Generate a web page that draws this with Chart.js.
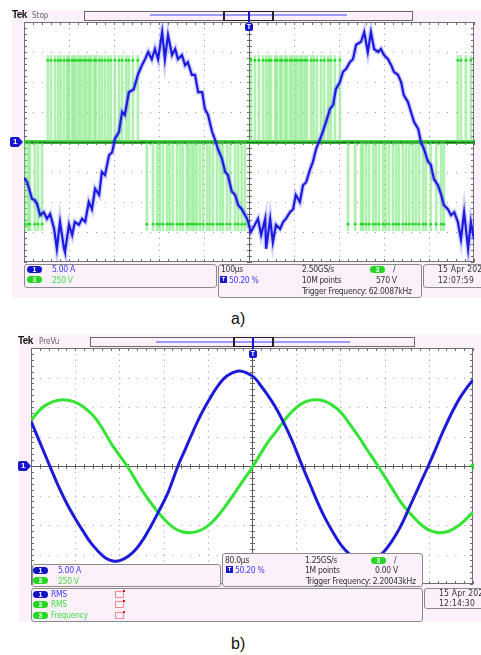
<!DOCTYPE html>
<html>
<head>
<meta charset="utf-8">
<script src="https://cdn.jsdelivr.net/npm/chart.js@4.4.1/dist/chart.umd.min.js"></script>
<style>
html, body { margin: 0; padding: 0; background: #fff; }
#page { position: relative; width: 481px; height: 655px; overflow: hidden;
  font-family: "Liberation Sans Narrow", "DejaVu Sans Condensed", "Liberation Sans", sans-serif; }
.pink { position: absolute; background: #fcf0fa; }
canvas { position: absolute; left: 0; }
.box { position: absolute; border: 1px solid #8a8a8a; border-radius: 3px; background: #fcf0fa; box-sizing: border-box; }
.t { position: absolute; font-size: 8.5px; line-height: 10px; color: #333; white-space: nowrap; letter-spacing: -0.3px; }
.date { letter-spacing: 0.2px; }
.c1 { color: #3a3aff; }
.c3 { color: #45dd45; }
.pill { position: absolute; width: 15px; height: 7px; border-radius: 4px; color: #fff; font: bold 7px/7px "Liberation Sans", sans-serif; text-align: center; }
.p1 { background: #1212c8; }
.p3 { background: #22d622; }
.tek { position: absolute; font: bold 10px/10px "Liberation Sans", sans-serif; color: #111; letter-spacing: -0.6px; }
.mode { position: absolute; font-size: 8px; line-height: 9px; color: #666; }
.hbar { position: absolute; border: 1px solid #6a6a6a; background: #fcf0fa; box-sizing: border-box; }
.hline { position: absolute; height: 2px; background: #9a9aff; }
.brk { position: absolute; border: 1px solid #222; border-left-width: 2px; border-right-width: 2px; box-sizing: border-box; }
.arrow { position: absolute; width: 2px; background: #1515d0; }
.tmark { position: absolute; width: 8px; height: 8px; border-radius: 2px; background: #1515d0; color: #fff;
  font: bold 7px/8px "Liberation Sans", sans-serif; text-align: center; }
.ch1 { position: absolute; width: 13px; height: 10px; background: #1515d0; color: #fff;
  font: bold 8px/10px "Liberation Sans", sans-serif; text-indent: 3px;
  clip-path: polygon(0 0, 65% 0, 100% 50%, 65% 100%, 0 100%); border-radius: 2px 0 0 2px; }
.ticon { position: absolute; width: 7px; height: 7px; background: #1515d0; color: #fff;
  font: bold 6px/7px "Liberation Sans", sans-serif; text-align: center; }
.ricon { position: absolute; width: 9px; height: 7px; border: 1px solid #f08a8a; box-sizing: border-box; }
.ricon::after { content: ""; position: absolute; right: -2px; top: -2px; width: 2px; height: 2px; background: #e01010; }
.gmark { position: absolute; width: 5px; height: 6px; background: #22d622; clip-path: polygon(0 50%, 100% 0, 100% 100%); }
.lbl { position: absolute; font: 16px/20px "Liberation Sans", Arial, sans-serif; color: #111; }
</style>
</head>
<body>
<div id="page">
  <!-- panel a -->
  <div class="pink" style="left:12px;top:10px;width:469px;height:288px;"></div>
  <canvas id="chartA" width="481" height="300" style="top:0;"></canvas>
  <div class="tek" style="left:12px;top:10px;">Tek</div>
  <div class="mode" style="left:32px;top:11px;">Stop</div>
  <div class="hbar" style="left:84px;top:11px;width:329px;height:10px;"></div>
  <div class="hline" style="left:150px;top:14px;width:197px;"></div>
  <div class="brk" style="left:223px;top:11px;width:51px;height:10px;"></div>
  <div class="arrow" style="left:248px;top:11px;height:11px;"></div>
  <div class="tmark" style="left:245px;top:23px;">T</div>
  <div class="ch1" style="left:10px;top:137px;">1</div>

  <div class="box" style="left:24px;top:264px;width:193px;height:24px;"></div>
  <div class="pill p1" style="left:27px;top:266px;">1</div>
  <div class="t c1" style="left:52px;top:264px;">5.00 A</div>
  <div class="pill p3" style="left:27px;top:276px;">3</div>
  <div class="t c3" style="left:52px;top:275px;">250 V</div>

  <div class="box" style="left:218px;top:264px;width:204px;height:34px;"></div>
  <div class="t" style="left:221px;top:264px;">100µs</div>
  <div class="t" style="left:302px;top:264px;">2.50GS/s</div>
  <div class="pill p3" style="left:370px;top:266px;">3</div>
  <div class="t" style="left:393px;top:264px;">/</div>
  <div class="ticon" style="left:220px;top:276px;">T</div>
  <div class="t c1" style="left:229px;top:275px;">50.20 %</div>
  <div class="t" style="left:302px;top:275px;">10M points</div>
  <div class="t" style="left:376px;top:275px;">570 V</div>
  <div class="t" style="left:302px;top:286px;">Trigger Frequency: 62.0087kHz</div>

  <div class="box" style="left:423px;top:264px;width:70px;height:24px;"></div>
  <div class="t date" style="left:438px;top:264px;">15 Apr 202</div>
  <div class="t date" style="left:438px;top:275px;">12:07:59</div>

  <div class="lbl" style="left:231px;top:309px;">a)</div>

  <!-- panel b -->
  <div class="pink" style="left:19px;top:335px;width:462px;height:287px;"></div>
  <canvas id="chartB" width="481" height="300" style="top:330px;"></canvas>
  <div class="tek" style="left:18px;top:336px;">Tek</div>
  <div class="mode" style="left:39px;top:337px;">PreVu</div>
  <div class="hbar" style="left:90px;top:337px;width:325px;height:10px;"></div>
  <div class="hline" style="left:156px;top:341px;width:194px;"></div>
  <div class="brk" style="left:233px;top:337px;width:41px;height:10px;"></div>
  <div class="arrow" style="left:252px;top:337px;height:12px;"></div>
  <div class="tmark" style="left:249px;top:350px;">T</div>
  <div class="ch1" style="left:18px;top:461px;">1</div>
  <div class="gmark" style="left:469px;top:463px;"></div>

  <div class="box" style="left:222px;top:553px;width:201px;height:34px;"></div>
  <div class="t" style="left:225px;top:555px;">80.0µs</div>
  <div class="t" style="left:305px;top:555px;">1.25GS/s</div>
  <div class="pill p3" style="left:371px;top:557px;">3</div>
  <div class="t" style="left:394px;top:555px;">/</div>
  <div class="ticon" style="left:226px;top:566px;">T</div>
  <div class="t c1" style="left:235px;top:565px;">50.20 %</div>
  <div class="t" style="left:305px;top:565px;">1M points</div>
  <div class="t" style="left:375px;top:565px;">0.00 V</div>
  <div class="t" style="left:306px;top:576px;">Trigger Frequency: 2.20043kHz</div>

  <div class="box" style="left:32px;top:564px;width:189px;height:23px;"></div>
  <div class="pill p1" style="left:33px;top:567px;">1</div>
  <div class="t c1" style="left:58px;top:565px;">5.00 A</div>
  <div class="pill p3" style="left:33px;top:577px;">3</div>
  <div class="t c3" style="left:58px;top:576px;">250 V</div>

  <div class="box" style="left:31px;top:588px;width:392px;height:34px;"></div>
  <div class="pill p1" style="left:33px;top:591px;">1</div>
  <div class="t c1" style="left:51px;top:589px;">RMS</div>
  <div class="ricon" style="left:115px;top:591px;"></div>
  <div class="pill p3" style="left:33px;top:601px;">3</div>
  <div class="t c3" style="left:51px;top:599px;">RMS</div>
  <div class="ricon" style="left:115px;top:601px;"></div>
  <div class="pill p3" style="left:33px;top:612px;">3</div>
  <div class="t c3" style="left:51px;top:610px;">Frequency</div>
  <div class="ricon" style="left:115px;top:612px;"></div>

  <div class="box" style="left:424px;top:588px;width:70px;height:21px;"></div>
  <div class="t date" style="left:439px;top:588px;">15 Apr 202</div>
  <div class="t date" style="left:439px;top:598px;">12:14:30</div>

  <div class="lbl" style="left:231px;top:634px;">b)</div>
</div>

<script>
// a) screenshot: 100 us/div, CH1 5 A/div, CH3 250 V/div
const aCurrentTime = [-500,-493,-482,-476,-471,-464,-456,-449,-442,-433,-427,-420,-411,-409,-400,-393,-387,-378,-371,-364,
  -356,-349,-342,-333,-327,-320,-311,-304,-298,-289,-282,-276,-267,-256,-247,-238,-231,-224,-216,-209,
  -202,-193,-187,-180,-171,-164,-158,-149,-142,-136,-127,-120,-113,-104,-98,-91,-82,-76,-69,-60,
  -53,-47,-38,-31,-24,-16,-4,4,13,20,27,36,38,47,53,60,69,76,82,91,
  98,104,113,120,127,136,142,149,158,164,171,180,187,193,202,209,216,224,231,238,
  249,256,264,271,278,287,293,300,309,316,322,331,338,344,353,360,367,376,382,389,
  398,404,411,420,427,433,442,449,456,464,471,478,487,493,500];
const aCurrentAmps = [-6.0,-6.7,-9.5,-9.7,-10.3,-12.2,-11.7,-12.8,-12.0,-14.5,-17.8,-13.3,-17.8,-18.3,-13.8,-15.5,-13.3,-13.8,-12.8,-13.3,
  -10.0,-11.2,-7.8,-8.8,-5.0,-5.5,-2.2,-1.7,0.5,1.7,5.0,4.5,8.3,8.8,11.2,12.8,13.8,15.0,13.8,15.5,
  13.8,18.3,13.8,17.8,14.5,15.5,13.8,14.5,12.8,13.3,11.2,11.2,8.3,8.3,5.5,4.5,1.7,0.5,-1.2,-2.8,
  -5.0,-5.5,-8.3,-8.8,-10.5,-11.2,-12.8,-15.0,-13.8,-12.8,-15.5,-12.8,-17.8,-12.8,-16.7,-13.8,-14.5,-13.3,-12.8,-11.7,
  -11.2,-8.8,-10.0,-7.2,-6.7,-4.5,-3.3,-1.2,0.5,1.7,3.3,5.5,6.2,8.8,10.0,11.7,12.2,13.3,13.8,16.2,
  16.7,18.3,15.0,18.3,15.5,15.0,15.5,14.5,13.8,12.8,11.7,11.2,10.0,7.8,6.7,5.0,3.3,2.2,0,-1.2,
  -3.3,-3.8,-6.2,-7.2,-8.8,-10.5,-11.2,-12.2,-11.7,-13.3,-16.2,-11.7,-17.8,-13.3,-16.2];

// PWM pulses of CH3 (times in us)
const aPwmPosTimes = [-447,-440,-431,-424,-418,-411,-404,-400,-393,-389,-384,-378,-373,-367,-362,-356,-351,-344,-340,-333,
  -327,-320,-313,-307,-298,-289,-282,-273,-267,-258,-247,
  4,13,22,31,38,44,49,58,62,69,73,80,84,91,96,102,107,113,118,124,129,138,144,151,160,167,176,182,191,202,
  464,471,482,493];
const aPwmNegTimes = [-498,-491,-487,-476,-469,-460,
  -227,-213,-204,-198,-191,-182,-176,-169,-160,-153,-147,-138,-133,-127,-122,-116,-109,-102,-93,-87,-80,-71,-64,-58,
  -49,-42,-31,-24,-16,-9,
  220,236,249,253,260,267,276,282,289,298,304,311,320,327,333,342,349,356,364,371,378,387,393,404,416,427,433];
const aPwmHigh = 720, aPwmLow = -740;     // V, edge extent
const aDotHigh = 680, aDotLow = -685;     // V, plateau level
const aZeroTimes = [-500, 500];
const aZeroVolts = [0, 0];

// b) screenshot: 80 us/div, CH1 5 A/div, CH3 250 V/div
const bCurrentTime = [-400,-383,-366,-350,-335,-320,-306,-292,-279,-265,-252,-238,-224,-210,-196,-183,-170,-152,-134,-120,
  -107,-92,-76,-60,-45,-25,-10,4,16,27,41,56,73,91,105,118,132,147,162,177,
  191,205,220,237,252,268,284,300,319,332,346,361,376,390,400];
const bCurrentAmps = [7.6,3.8,0,-3.5,-6.4,-8.9,-11.0,-13.0,-14.4,-15.6,-16.1,-16.0,-15.3,-14.1,-12.3,-10.2,-7.9,-4.5,0,3.0,
  5.8,8.8,11.5,13.8,15.3,16.1,15.8,15.0,13.6,12.2,10.2,7.6,4.2,0,-3.1,-6.0,-8.8,-11.3,-13.5,-15.0,
  -15.8,-16.1,-15.8,-14.7,-12.9,-10.4,-7.2,-3.9,0,2.8,5.9,8.9,11.5,13.4,14.6];
const bVoltageTime = [-400,-378,-360,-342,-324,-306,-288,-275,-252,-226,-203,-185,-172,-158,-143,-128,-112,-96,-81,-65,
  -45,-22,2,27,45,56,72,87,100,114,130,147,162,177,193,208,228,255,270,286,
  302,317,330,340,355,371,385,400];
const bVoltageVolts = [390,500,545,562,548,505,430,350,170,0,-178,-300,-380,-455,-520,-555,-565,-550,-512,-440,
  -320,-165,0,190,300,370,460,520,550,562,552,510,450,355,250,140,0,-200,-310,-400,
  -480,-535,-558,-565,-555,-515,-460,-390];

const xy = (xs, ys) => xs.map((x, i) => ({ x: x, y: ys[i] }));

function scopeGrid(xDivs, yDivs) {
    return {
        id: 'scopeGrid',
        beforeDatasetsDraw(chart) {
            const { ctx, chartArea: a } = chart;
            const xs = chart.scales.x, ys = chart.scales.y;
            const dx = (xs.max - xs.min) / xDivs, dy = (ys.max - ys.min) / yDivs;
            const px = v => Math.round(xs.getPixelForValue(v)) + 0.5;
            const py = v => Math.round(ys.getPixelForValue(v)) + 0.5;
            const line = (x1, y1, x2, y2) => { ctx.beginPath(); ctx.moveTo(x1, y1); ctx.lineTo(x2, y2); ctx.stroke(); };
            ctx.save();
            ctx.fillStyle = '#fff';
            ctx.fillRect(a.left, a.top, a.width, a.height);
            // dotted graticule
            ctx.strokeStyle = '#9c9c9c';
            ctx.lineWidth = 1;
            const mx = xs.getPixelForValue(xs.min + dx / 5) - xs.getPixelForValue(xs.min);
            const my = ys.getPixelForValue(ys.min) - ys.getPixelForValue(ys.min + dy / 5);
            for (let i = 1; i < xDivs; i++) {
                if (i * 2 === xDivs) continue;
                ctx.setLineDash([1, my - 1]);
                line(px(xs.min + i * dx), a.top, px(xs.min + i * dx), a.bottom);
            }
            for (let j = 1; j < yDivs; j++) {
                if (j * 2 === yDivs) continue;
                ctx.setLineDash([1, mx - 1]);
                line(a.left, py(ys.min + j * dy), a.right, py(ys.min + j * dy));
            }
            ctx.setLineDash([]);
            // centre cross and frame with minor ticks
            ctx.strokeStyle = '#5a5a5a';
            const cx = px(0), cy = py(0);
            line(cx, a.top, cx, a.bottom);
            line(a.left, cy, a.right, cy);
            ctx.strokeStyle = '#6a6a6a';
            for (let i = 0; i <= xDivs * 5; i++) {
                const x = px(xs.min + i * dx / 5);
                line(x, cy - 2.5, x, cy + 2.5);
                line(x, a.top, x, a.top + 3);
                line(x, a.bottom - 3, x, a.bottom);
            }
            for (let j = 0; j <= yDivs * 5; j++) {
                const y = py(ys.min + j * dy / 5);
                line(cx - 2.5, y, cx + 2.5, y);
                line(a.left, y, a.left + 3, y);
                line(a.right - 3, y, a.right, y);
            }
            ctx.strokeStyle = '#707070';
            ctx.strokeRect(a.left + 0.5, a.top + 0.5, a.width - 1, a.height - 1);
            ctx.restore();
        },
        afterDatasetDraw(chart, args) {
            // dark centre line sits on top of the CH3 zero band
            if (chart.data.datasets[args.index].label !== 'CH3 zero') return;
            const { ctx, chartArea: a } = chart;
            const cy = Math.round(chart.scales.y.getPixelForValue(0)) + 0.5;
            ctx.save();
            ctx.strokeStyle = '#2d4d2d';
            ctx.lineWidth = 1.5;
            ctx.beginPath(); ctx.moveTo(a.left, cy); ctx.lineTo(a.right, cy); ctx.stroke();
            ctx.restore();
        }
    };
}

function scopeOptions(xMin, xMax, padding) {
    return {
        responsive: false,
        animation: false,
        events: [],
        layout: { padding: padding },
        plugins: { legend: { display: false }, tooltip: { enabled: false } },
        scales: {
            x: { type: 'linear', min: xMin, max: xMax, offset: false, display: false },
            y: { min: -20, max: 20, display: false },
            y2: { min: -1000, max: 1000, display: false }
        }
    };
}

const pwmBars = aPwmPosTimes.map(t => ({ x: t, y: [0, aPwmHigh] }))
    .concat(aPwmNegTimes.map(t => ({ x: t, y: [0, aPwmLow] })));
const pwmDots = aPwmPosTimes.map(t => ({ x: t, y: aDotHigh }))
    .concat(aPwmNegTimes.map(t => ({ x: t, y: aDotLow })));

new Chart(document.getElementById('chartA'), {
    type: 'line',
    data: {
        datasets: [
            { label: 'CH1', data: xy(aCurrentTime, aCurrentAmps), yAxisID: 'y', borderColor: '#1a1ae0',
              borderWidth: 2.2, pointRadius: 0, tension: 0, order: 0 },
            { label: 'CH1 halo', data: xy(aCurrentTime, aCurrentAmps), yAxisID: 'y', borderColor: 'rgba(80,80,255,0.28)',
              borderWidth: 5, pointRadius: 0, tension: 0, order: 1 },
            { label: 'CH3 plateau', data: pwmDots, yAxisID: 'y2', showLine: false, pointRadius: 1.4,
              pointBorderWidth: 0, pointBackgroundColor: '#1fd81f', order: 2 },
            { type: 'bar', label: 'CH3 edges', data: pwmBars, yAxisID: 'y2', backgroundColor: 'rgba(95,228,95,0.5)',
              barThickness: 2, grouped: false, order: 3 },
            { label: 'CH3 zero', data: xy(aZeroTimes, aZeroVolts), yAxisID: 'y2', borderColor: '#34de34',
              borderWidth: 4, pointRadius: 0, order: 4 }
        ]
    },
    options: scopeOptions(-500, 500, { left: 24, top: 22, right: 7, bottom: 38 }),
    plugins: [scopeGrid(10, 8)]
});

new Chart(document.getElementById('chartB'), {
    type: 'line',
    data: {
        datasets: [
            { label: 'CH1', data: xy(bCurrentTime, bCurrentAmps), yAxisID: 'y', borderColor: '#1c1cd8',
              borderWidth: 3, pointRadius: 0, tension: 0.4, order: 0 },
            { label: 'CH3', data: xy(bVoltageTime, bVoltageVolts), yAxisID: 'y2', borderColor: '#33e433',
              borderWidth: 3, pointRadius: 0, tension: 0.4, order: 1 }
        ]
    },
    options: scopeOptions(-400, 400, { left: 31, top: 18, right: 8, bottom: 46 }),
    plugins: [scopeGrid(10, 8)]
});
</script>
</body>
</html>
